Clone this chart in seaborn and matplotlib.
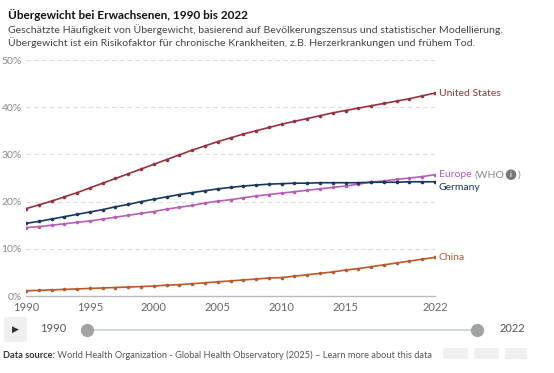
import pandas as pd
import matplotlib
matplotlib.use("Agg")
import matplotlib.pyplot as plt
import seaborn as sns
from matplotlib.patches import FancyBboxPatch

# Data (share of adults with obesity, %)
years = list(range(1990, 2023))
united_states = [18.5, 19.3, 20.1, 21.0, 21.9, 22.9, 23.9, 24.9, 25.9, 26.9, 27.9,
                 28.9, 29.9, 30.9, 31.8, 32.7, 33.5, 34.3, 35.0, 35.7, 36.4,
                 37.0, 37.6, 38.2, 38.8, 39.3, 39.8, 40.3, 40.8, 41.3, 41.8, 42.4, 43.0]
germany = [15.4, 15.8, 16.3, 16.8, 17.3, 17.8, 18.3, 18.9, 19.4, 20.0, 20.5,
           21.0, 21.5, 21.9, 22.3, 22.7, 23.0, 23.3, 23.5, 23.7, 23.8,
           23.9, 23.9, 24.0, 24.0, 24.0, 24.0, 24.1, 24.1, 24.1, 24.2, 24.2, 24.2]
europe = [14.5, 14.7, 15.0, 15.3, 15.6, 15.9, 16.3, 16.7, 17.1, 17.5, 17.9,
          18.4, 18.8, 19.2, 19.7, 20.1, 20.4, 20.8, 21.2, 21.5, 21.8,
          22.1, 22.4, 22.7, 23.0, 23.3, 23.7, 24.1, 24.4, 24.7, 25.0, 25.3, 25.7]
china = [1.1, 1.2, 1.3, 1.4, 1.5, 1.6, 1.7, 1.8, 1.9, 2.0, 2.1,
         2.3, 2.4, 2.6, 2.8, 3.0, 3.2, 3.4, 3.6, 3.8, 3.9,
         4.2, 4.5, 4.8, 5.1, 5.5, 5.8, 6.2, 6.6, 7.0, 7.4, 7.8, 8.2]

series = {"United States": united_states, "Europe (WHO)": europe,
          "Germany": germany, "China": china}
colors = {"United States": "#97313f", "Europe (WHO)": "#b65eb5",
          "Germany": "#17375e", "China": "#b85a2a"}

x_ticks = [1990, 1995, 2000, 2005, 2010, 2015, 2022]
y_ticks = [0, 10, 20, 30, 40, 50]

rows = []
for name, vals in series.items():
    for yr, v in zip(years, vals):
        rows.append({"year": yr, "value": v, "entity": name})
df = pd.DataFrame(rows)

sns.set_style("white")
plt.rcParams["font.family"] = ["Lato", "DejaVu Sans"]

W, H = 554.0, 373.0
fig = plt.figure(figsize=(5.54, 3.73), dpi=100)
ax = fig.add_axes([26 / W, 1 - 296 / H, 409 / W, 236 / H])

sns.lineplot(data=df, x="year", y="value", hue="entity", palette=colors,
             marker="o", markersize=2.6, markeredgewidth=0, linewidth=1.2,
             legend=False, ax=ax)

ax.set_xlim(1990, 2022)
ax.set_ylim(0, 50)
ax.set_xticks(x_ticks)
ax.set_xticklabels([str(t) for t in x_ticks])
ax.set_yticks(y_ticks)
ax.set_yticklabels([f"{t}%" for t in y_ticks])
ax.set_xlabel("")
ax.set_ylabel("")
for t in y_ticks[1:]:
    ax.axhline(t, color="#dddddd", lw=0.8, ls=(0, (4, 3)), zorder=0)
for s in ["top", "right", "left"]:
    ax.spines[s].set_visible(False)
ax.spines["bottom"].set_color("#bbbbbb")
ax.spines["bottom"].set_linewidth(1)
ax.tick_params(axis="x", colors="#bbbbbb", length=4, width=1, direction="out",
               labelcolor="#666666", labelsize=8, pad=0)
ax.tick_params(axis="y", length=0, labelcolor="#888888", labelsize=7.5, pad=3)

# End labels
lx = 2022.3
ax.text(lx, united_states[-1], "United States", color=colors["United States"],
        fontsize=7.5, va="center", ha="left")
t1 = ax.text(lx, europe[-1], "Europe", color=colors["Europe (WHO)"],
             fontsize=7.5, va="center", ha="left")
t2 = ax.annotate("(WHO", xycoords=t1, xy=(1, 0.5), xytext=(2.5, 0),
                 textcoords="offset points", va="center", ha="left",
                 color="#888888", fontsize=7.5)
ax.annotate("i", xycoords=t2, xy=(1, 0.5), xytext=(4.5, 0),
            textcoords="offset points", color="white", fontsize=5,
            fontweight="bold", va="center", ha="center",
            bbox=dict(boxstyle="circle,pad=0.25", fc="#777777", ec="none"))
ax.annotate(")", xycoords=t2, xy=(1, 0.5), xytext=(9, 0),
            textcoords="offset points", color="#888888", fontsize=7.5,
            va="center", ha="left")
ax.text(lx, germany[-1] - 1.3, "Germany", color=colors["Germany"],
        fontsize=7.5, va="center", ha="left")
ax.text(lx, china[-1], "China", color=colors["China"],
        fontsize=7.5, va="center", ha="left")

# Header
fig.text(8 / W, 1 - 15 / H, "Übergewicht bei Erwachsenen, 1990 bis 2022",
         fontsize=8.5, fontweight="bold", color="#111111", va="center")
fig.text(8 / W, 1 - 30 / H,
         "Geschätzte Häufigkeit von Übergewicht, basierend auf Bevölkerungszensus und statistischer Modellierung.",
         fontsize=7.55, color="#444444", va="center")
fig.text(8 / W, 1 - 43 / H,
         "Übergewicht ist ein Risikofaktor für chronische Krankheiten, z.B. Herzerkrankungen und frühem Tod.",
         fontsize=7.55, color="#444444", va="center")

# Timeline slider
fig.patches.append(FancyBboxPatch((4 / W, 1 - 342 / H), 23 / W, 25 / H,
                                  boxstyle="round,pad=0,rounding_size=0.004",
                                  fc="#f0f0f0", ec="none",
                                  transform=fig.transFigure, figure=fig))
fig.text(15.5 / W, 1 - 329.5 / H, "▶", fontsize=6.5, color="#333333",
         ha="center", va="center", family="DejaVu Sans")
fig.text(40 / W, 1 - 329 / H, "1990", fontsize=8, color="#555555", va="center")
fig.lines.append(plt.Line2D([87 / W, 477 / W], [1 - 329.5 / H, 1 - 329.5 / H],
                            color="#c5d3e2", lw=1.3, transform=fig.transFigure))
fig.lines.append(plt.Line2D([87 / W, 477 / W], [1 - 329.5 / H, 1 - 329.5 / H],
                            lw=0, marker="o", markersize=9.5,
                            markerfacecolor="#a2a2a2", markeredgewidth=0,
                            transform=fig.transFigure))
fig.text(500 / W, 1 - 329 / H, "2022", fontsize=8, color="#555555", va="center")

# Footer
ft = fig.text(3 / W, 1 - 355 / H, "Data source:", fontsize=6.7,
              fontweight="bold", color="#333333", va="center")
fig.add_artist(plt.Annotation(
    " World Health Organization - Global Health Observatory (2025) – Learn more about this data",
    xy=(1, 0.5), xycoords=ft, va="center", ha="left",
    fontsize=6.7, color="#555555"))
for bx, bw in ((443, 25), (474, 25), (505, 22)):
    fig.patches.append(FancyBboxPatch((bx / W, 1 - 359 / H), bw / W, 11 / H,
                                      boxstyle="round,pad=0,rounding_size=0.004",
                                      fc="#f0f0f0", ec="none",
                                      transform=fig.transFigure, figure=fig))

fig.savefig("out.png", dpi=100)
